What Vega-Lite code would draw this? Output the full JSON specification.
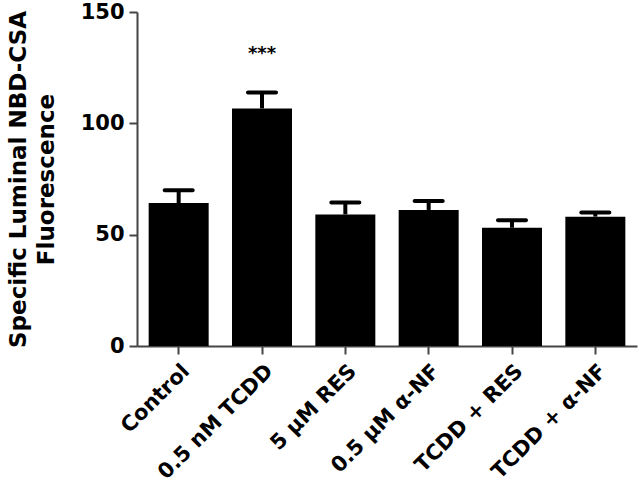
{
  "$schema": "https://vega.github.io/schema/vega-lite/v6.json",
  "autosize": {"type": "none"},
  "width": 500,
  "height": 334,
  "padding": {"left": 137, "top": 12, "right": 4, "bottom": 145},
  "background": "white",
  "config": {
    "view": {"stroke": null},
    "font": "DejaVu Sans"
  },
  "data": {
    "values": [
      {"group": "Control", "value": 64.2, "upper": 70.0, "sig": ""},
      {"group": "0.5 nM TCDD", "value": 106.7, "upper": 113.8, "sig": "***"},
      {"group": "5 μM RES", "value": 59.1, "upper": 64.4, "sig": ""},
      {"group": "0.5 μM α-NF", "value": 61.1, "upper": 65.1, "sig": ""},
      {"group": "TCDD + RES", "value": 53.1, "upper": 56.5, "sig": ""},
      {"group": "TCDD + α-NF", "value": 58.1, "upper": 59.9, "sig": ""}
    ]
  },
  "encoding": {
    "x": {
      "field": "group",
      "type": "nominal",
      "sort": null,
      "scale": {"paddingInner": 0.28, "paddingOuter": 0.14},
      "axis": {
        "title": null,
        "labelAngle": -45,
        "labelAlign": "right",
        "labelBaseline": "top",
        "labelFontSize": 21,
        "labelFontWeight": "bold",
        "labelColor": "black",
        "labelPadding": 6,
        "tickSize": 8,
        "tickWidth": 2,
        "tickColor": "#444",
        "domainColor": "#444",
        "domainWidth": 2
      }
    }
  },
  "layer": [
    {
      "mark": {"type": "bar", "color": "black"},
      "encoding": {
        "y": {
          "field": "value",
          "type": "quantitative",
          "scale": {"domain": [0, 150], "nice": false},
          "axis": {
            "title": ["Specific Luminal NBD-CSA", "Fluorescence"],
            "titleFontSize": 23,
            "titleFontWeight": "bold",
            "titleColor": "black",
            "titlePadding": 22,
            "titleLineHeight": 28,
            "values": [0, 50, 100, 150],
            "grid": false,
            "labelFontSize": 21,
            "labelFontWeight": "bold",
            "labelColor": "black",
            "labelPadding": 5,
            "tickSize": 8,
            "tickWidth": 2,
            "tickColor": "#444",
            "domainColor": "#444",
            "domainWidth": 2
          }
        }
      }
    },
    {
      "mark": {"type": "rule", "color": "black", "strokeWidth": 4},
      "encoding": {
        "y": {"field": "value", "type": "quantitative"},
        "y2": {"field": "upper"}
      }
    },
    {
      "mark": {"type": "tick", "color": "black", "opacity": 1, "thickness": 4, "size": 32, "cornerRadius": 2},
      "encoding": {
        "y": {"field": "upper", "type": "quantitative"}
      }
    },
    {
      "mark": {"type": "text", "fontSize": 18, "fontWeight": "bold", "color": "black", "baseline": "middle"},
      "encoding": {
        "y": {"datum": 131, "type": "quantitative"},
        "text": {"field": "sig"}
      }
    }
  ]
}
